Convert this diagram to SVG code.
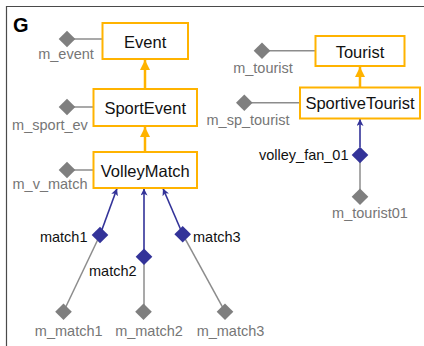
<svg xmlns="http://www.w3.org/2000/svg" width="424" height="346" viewBox="0 0 424 346">
  <style>
    .cls rect { fill: #ffffff; stroke: #FFB300; stroke-width: 2; }
    .cls text { font-family: "Liberation Sans", Arial, sans-serif; font-size: 16.5px; fill: #111; text-anchor: middle; }
    .dia-g { fill: #7f7f7f; }
    .dia-b { fill: #333399; }
    .lbl-g { font-family: "Liberation Sans", Arial, sans-serif; font-size: 14.5px; fill: #767676; }
    .lbl-b { font-family: "Liberation Sans", Arial, sans-serif; font-size: 14.5px; fill: #111; }
    .gen { stroke: #FFB300; stroke-width: 2.5; fill: none; marker-end: url(#tri-orange); }
    .link { stroke: #333399; stroke-width: 1.6; fill: none; marker-end: url(#tri-blue); }
    .slot { stroke: #8c8c8c; stroke-width: 1.5; fill: none; }
  </style>
  <defs>
    <marker id="tri-orange" viewBox="0 0 10 10" refX="10" refY="5" markerWidth="10" markerHeight="10" markerUnits="userSpaceOnUse" orient="auto">
      <path d="M0,0 L10,5 L0,10 z" fill="#FFB300"/>
    </marker>
    <marker id="tri-blue" viewBox="0 0 8 8" refX="8" refY="4" markerWidth="7" markerHeight="7" markerUnits="userSpaceOnUse" orient="auto">
      <path d="M0,0 L8,4 L0,8 L2,4 z" fill="#333399"/>
    </marker>
    <path id="dm" d="M0,-8.3 L8.3,0 L0,8.3 L-8.3,0 z"/>
  </defs>

  <rect x="0" y="0" width="424" height="346" fill="#ffffff"/>
  <!-- frame -->
  <path d="M6.5,346 L6.5,6.5 L424,6.5" fill="none" stroke="#4a4a4a" stroke-width="1.2"/>
  <text x="13" y="31.5" font-family="Liberation Sans, Arial, sans-serif" font-size="20" font-weight="bold" fill="#000">G</text>

  <!-- connectors -->
  <g id="connectors">
    <path class="gen" d="M145,89 L145,60"/>
    <path class="gen" d="M145,152 L145,127"/>
    <path class="gen" d="M360,87 L360,67"/>

    <path class="slot" d="M67,39 L102,39"/>
    <path class="slot" d="M67,107 L93,107"/>
    <path class="slot" d="M67,170 L93,170"/>
    <path class="slot" d="M262,50.7 L315,50.7"/>
    <path class="slot" d="M244.3,102.7 L300,102.7"/>

    <path class="slot" d="M360,155 L360,196.7"/>
    <path class="link" d="M360,147 L360,119"/>

    <path class="slot" d="M100,235 L63.5,311.7"/>
    <path class="slot" d="M144,256.7 L144,311.7"/>
    <path class="slot" d="M182.7,234.3 L225,311.7"/>
    <path class="link" d="M100,235 L117,188.5"/>
    <path class="link" d="M144,256.7 L144,188.5"/>
    <path class="link" d="M182.7,234.3 L163,188.5"/>
  </g>

  <!-- classes -->
  <g id="Event" class="cls">
    <rect x="102.5" y="23" width="85.5" height="36"/>
    <text x="145.2" y="47.5">Event</text>
  </g>
  <g id="SportEvent" class="cls">
    <rect x="93.5" y="89" width="103.5" height="37"/>
    <text x="145.2" y="113.5">SportEvent</text>
  </g>
  <g id="VolleyMatch" class="cls">
    <rect x="93.5" y="152" width="103.5" height="36"/>
    <text x="145.2" y="176.5">VolleyMatch</text>
  </g>
  <g id="Tourist" class="cls">
    <rect x="315.5" y="36" width="89" height="30"/>
    <text x="360" y="57.5">Tourist</text>
  </g>
  <g id="SportiveTourist" class="cls">
    <rect x="300" y="87.5" width="120" height="31"/>
    <text x="360" y="108.5">SportiveTourist</text>
  </g>

  <!-- model instances -->
  <g id="m_event">
    <use href="#dm" class="dia-g" x="67" y="39"/>
    <text class="lbl-g" x="66" y="59" text-anchor="middle">m_event</text>
  </g>
  <g id="m_sport_ev">
    <use href="#dm" class="dia-g" x="67" y="107"/>
    <text class="lbl-g" x="50" y="129.5" text-anchor="middle">m_sport_ev</text>
  </g>
  <g id="m_v_match">
    <use href="#dm" class="dia-g" x="67" y="170"/>
    <text class="lbl-g" x="50" y="189" text-anchor="middle">m_v_match</text>
  </g>
  <g id="m_tourist">
    <use href="#dm" class="dia-g" x="262" y="50.7"/>
    <text class="lbl-g" x="263" y="72.5" text-anchor="middle">m_tourist</text>
  </g>
  <g id="m_sp_tourist">
    <use href="#dm" class="dia-g" x="244.3" y="102.7"/>
    <text class="lbl-g" x="289.5" y="124.5" text-anchor="end">m_sp_tourist</text>
  </g>
  <g id="volley_fan_01">
    <use href="#dm" class="dia-b" x="360" y="155"/>
    <text class="lbl-b" x="348.5" y="160" text-anchor="end">volley_fan_01</text>
  </g>
  <g id="m_tourist01">
    <use href="#dm" class="dia-g" x="360" y="196.7"/>
    <text class="lbl-g" x="370" y="218" text-anchor="middle">m_tourist01</text>
  </g>
  <g id="match1">
    <use href="#dm" class="dia-b" x="100" y="235"/>
    <text class="lbl-b" x="87.5" y="242" text-anchor="end">match1</text>
  </g>
  <g id="match2">
    <use href="#dm" class="dia-b" x="144" y="256.7"/>
    <text class="lbl-b" x="89" y="275.5">match2</text>
  </g>
  <g id="match3">
    <use href="#dm" class="dia-b" x="182.7" y="234.3"/>
    <text class="lbl-b" x="193" y="242">match3</text>
  </g>
  <g id="m_match1">
    <use href="#dm" class="dia-g" x="63.5" y="311.7"/>
    <text class="lbl-g" x="68.7" y="336" text-anchor="middle">m_match1</text>
  </g>
  <g id="m_match2">
    <use href="#dm" class="dia-g" x="143.5" y="311.7"/>
    <text class="lbl-g" x="149" y="336" text-anchor="middle">m_match2</text>
  </g>
  <g id="m_match3">
    <use href="#dm" class="dia-g" x="225" y="311.7"/>
    <text class="lbl-g" x="230.5" y="336" text-anchor="middle">m_match3</text>
  </g>
</svg>
